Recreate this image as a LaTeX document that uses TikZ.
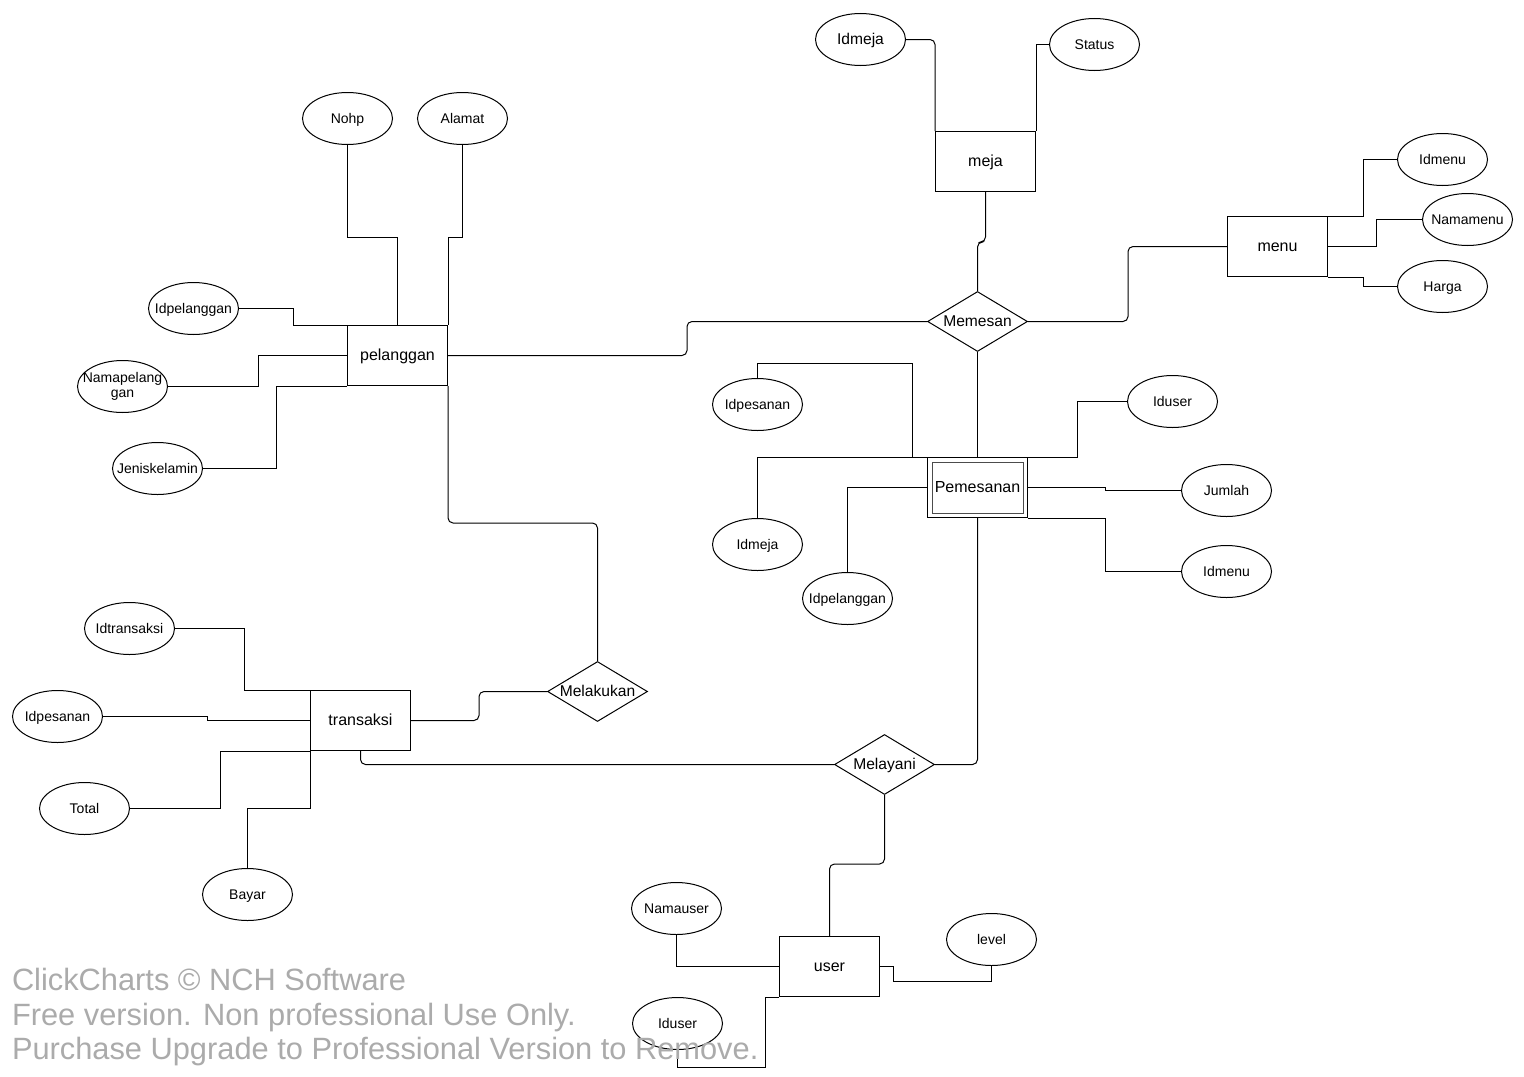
\documentclass[tikz,border=0pt]{standalone}
\usepackage{fontspec}
\setmainfont{Liberation Sans}
\usetikzlibrary{shapes.geometric,calc}
\begin{document}
\begin{tikzpicture}[x=0.5pt,y=-0.5pt,
  every path/.style={line width=0.5pt},
  lbl/.style={inner sep=0pt, align=center, text height=0.5em, text depth=0pt},
  ent/.style={draw, rectangle, minimum width=50pt, minimum height=30pt, inner sep=0pt, font=\fontsize{8}{9}\selectfont, text height=0.5em, text depth=0pt},
  rel/.style={draw, diamond, minimum width=50pt, minimum height=30pt, inner sep=0pt},
  rellbl/.style={lbl, font=\fontsize{7.8}{9}\selectfont},
  att/.style={draw, ellipse, minimum width=45pt, minimum height=26pt, inner sep=0pt},
  attlbl/.style={lbl, font=\fontsize{7}{8}\selectfont},
  attbig/.style={lbl, font=\fontsize{7.8}{9}\selectfont},
  con/.style={draw},
  rcon/.style={draw, rounded corners=2.5pt},
  wm/.style={anchor=base west, text=black!33, font=\fontsize{15.4}{17}\selectfont, inner sep=0pt}]
\useasboundingbox (-0.5,-0.5) rectangle (1523.5,1075.5);
\fill[white] (-0.5,-0.5) rectangle (1523.5,1075.5);

% entities
\node[ent] (pel) at (397,355) {pelanggan};
\node[ent] (meja) at (985,161) {meja};
\node[ent] (menu) at (1277,246) {menu};
\node[ent] (pem) at (977,487) {};
\node[ent, draw=none] (pemlbl) at (977,487) {Pemesanan};
\draw[black!70] ([shift={(5,5)}]pem.north west) rectangle ([shift={(-5,-5)}]pem.south east);
\node[ent] (trans) at (360,720) {transaksi};
\node[ent] (user) at (829,966) {user};

% relationships
\node[rel, label={[rellbl]center:Memesan}] (memesan) at (977,321) {};
\node[rel, label={[rellbl]center:Melakukan}] (melakukan) at (597,691) {};
\node[rel, label={[rellbl]center:Melayani}] (melayani) at (884,764) {};

% attributes
\node[att, label={[attbig]center:Idmeja}] (idmeja1) at (860,39) {};
\node[att, label={[attlbl]center:Status}] (status) at (1094,44) {};
\node[att, label={[attlbl]center:Nohp}] (nohp) at (347,118) {};
\node[att, label={[attlbl]center:Alamat}] (alamat) at (462,118) {};
\node[att, label={[attlbl]center:Idpelanggan}] (idpel1) at (193,308) {};
\node[att, label={[inner sep=0pt, align=center, font=\fontsize{7}{7.6}\selectfont]center:{Namapelang\\gan}}] (namapel) at (122,386) {};
\node[att, label={[attlbl]center:Jeniskelamin}] (jenis) at (157,468) {};
\node[att, label={[attlbl]center:Idmenu}] (idmenu1) at (1442,159) {};
\node[att, label={[attlbl]center:Namamenu}] (namamenu) at (1467,219) {};
\node[att, label={[attlbl]center:Harga}] (harga) at (1442,286) {};
\node[att, label={[attlbl]center:Idpesanan}] (idpes1) at (757,404) {};
\node[att, label={[attlbl]center:Iduser}] (iduser1) at (1172,401) {};
\node[att, label={[attlbl]center:Jumlah}] (jumlah) at (1226,490) {};
\node[att, label={[attlbl]center:Idmeja}] (idmeja2) at (757,544) {};
\node[att, label={[attlbl]center:Idmenu}] (idmenu2) at (1226,571) {};
\node[att, label={[attlbl]center:Idpelanggan}] (idpel2) at (847,598) {};
\node[att, label={[attlbl]center:Idtransaksi}] (idtrans) at (129,628) {};
\node[att, label={[attlbl]center:Idpesanan}] (idpes2) at (57,716) {};
\node[att, label={[attlbl]center:Total}] (total) at (84,808) {};
\node[att, label={[attlbl]center:Bayar}] (bayar) at (247,894) {};
\node[att, label={[attlbl]center:Namauser}] (namauser) at (676,908) {};
\node[att, label={[attlbl]center:level}] (level) at (991,939) {};
\node[att, label={[attlbl]center:Iduser}] (iduser2) at (677,1023) {};

% connectors: meja
\draw[rcon] (idmeja1.east) -| (meja.north west);
\draw[con] (status.west) -| (meja.north east);
\draw[rcon] (meja.south) -- ++(0,50) -| (memesan.north);
% memesan
\draw[rcon] (memesan.west) -- ++(-240,0) |- (pel.east);
\draw[rcon] (memesan.east) -- ++(100,0) |- (menu.west);
\draw[con] (memesan.south) -- (pem.north);
% menu attributes
\draw[con] (menu.north east) -- ++(35,0) |- (idmenu1.west);
\draw[con] (menu.east) -- ++(48,0) |- (namamenu.west);
\draw[con] (menu.south east) -- ++(35,0) |- (harga.west);
% pelanggan attributes
\draw[con] (nohp.south) -- ++(0,92) -| (pel.north);
\draw[con] (alamat.south) -- ++(0,92) -| (pel.north east);
\draw[con] (idpel1.east) -- ++(54,0) |- (pel.north west);
\draw[con] (namapel.east) -- ++(90,0) |- (pel.west);
\draw[con] (jenis.east) -- ++(73,0) |- (pel.south west);
% pelanggan - melakukan - transaksi
\draw[rcon] (pel.south east) -- ++(0,137) -| (melakukan.north);
\draw[rcon] (melakukan.west) -- ++(-68,0) |- (trans.east);
% transaksi - melayani - pemesanan / user
\draw[rcon] (trans.south) |- (melayani.west);
\draw[rcon] (melayani.east) -| (pem.south);
\draw[rcon] (melayani.south) -- ++(0,69) -| (user.north);
% pemesanan attributes
\draw[con] (idpes1.north) -- ++(0,-15) -- ++(155,0) |- (pem.north west);
\draw[con] (idmeja2.north) |- (pem.north west);
\draw[con] (iduser1.west) -- ++(-50,0) |- (pem.north east);
\draw[con] (pem.east) -- ++(77,0) |- (jumlah.west);
\draw[con] (pem.south east) -- ++(77,0) |- (idmenu2.west);
\draw[con] (idpel2.north) |- (pem.west);
% transaksi attributes
\draw[con] (idtrans.east) -- ++(69,0) |- (trans.north west);
\draw[con] (idpes2.east) -- ++(104,0) |- (trans.west);
\draw[con] (total.east) -- ++(90,0) |- (trans.south west);
\draw[con] (bayar.north) -- ++(0,-60) -| (trans.south west);
% user attributes
\draw[con] (namauser.south) |- (user.west);
\draw[con] (level.south) -- ++(0,15) -- ++(-98,0) |- (user.east);
\draw[con] (iduser2.south) -- ++(0,17) -- ++(88,0) |- (user.south west);

% watermark
\node[wm] (wm1) at (11,990) {ClickCharts © NCH Software};
\node[wm] (wm2) at (11,1025) {Free version. Non professional Use Only.};
\node[wm] (wm3) at (11,1059) {Purchase Upgrade to Professional Version to Remove.};
\end{tikzpicture}
\end{document}
